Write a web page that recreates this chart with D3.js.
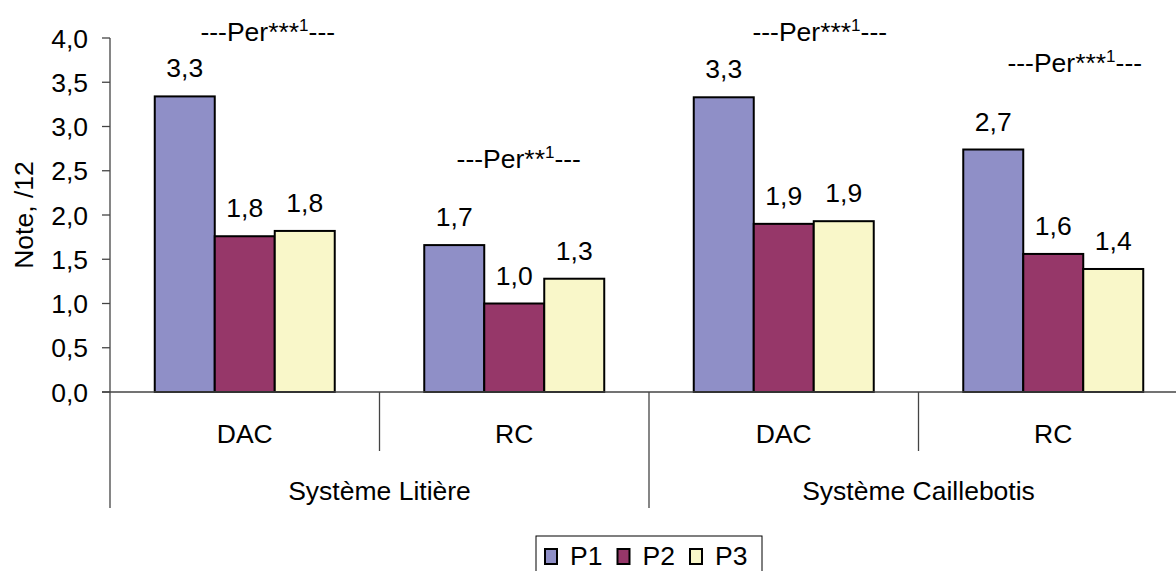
<!DOCTYPE html>
<html>
<head>
<meta charset="utf-8">
<script src="https://cdn.jsdelivr.net/npm/d3@7"></script>
<style>
  html, body { margin: 0; padding: 0; background: #fff; }
  svg { display: block; }
  text { font-family: "Liberation Sans", Arial, sans-serif; fill: #000; }
</style>
</head>
<body>
<svg id="chart" width="1176" height="571"></svg>
<script>
// ---- data ----
const systems = ["Système Litière", "Système Caillebotis"];
const categories = ["DAC", "RC", "DAC", "RC"];
const categorySystem = [0, 0, 1, 1];
const seriesNames = ["P1", "P2", "P3"];
const P1 = [3.34, 1.66, 3.33, 2.74];
const P2 = [1.76, 1.00, 1.90, 1.56];
const P3 = [1.82, 1.28, 1.93, 1.39];
const yTicks = [0, 0.5, 1, 1.5, 2, 2.5, 3, 3.5, 4];
const yTitle = "Note, /12";
const annotStars = ["***", "**", "***", "***"];
const annotLevel = [3.97, 2.53, 3.97, 3.62];   // baseline level in data units
const seriesColors = ["#8f8fc7", "#963769", "#f9f7c9"];

// ---- layout ----
const W = 1176, H = 571;
const plotLeft = 110, plotRight = 1188, plotTop = 38, plotBottom = 392;
const FS = 26.5, SX = 1.0;
const annotDx = [23, 4.5, 36, 21.5];

const svg = d3.select("#chart");
const loc = d3.formatLocale({decimal: ",", thousands: " ", grouping: [3], currency: ["", "€"]});
const fmt = loc.format(".1f");

const y = d3.scaleLinear().domain([0, 4]).range([plotBottom, plotTop]);
const x0 = d3.scaleBand().domain(d3.range(categories.length)).range([plotLeft, plotRight]).padding(0);
const x1 = d3.scaleBand().domain(seriesNames).range([0, x0.bandwidth()]).paddingInner(0).paddingOuter(0.746);

const series = [P1, P2, P3];

function txt(g, x, yy, s, opts = {}) {
  const t = g.append("text")
    .attr("transform", `translate(${x},${yy})${opts.rotate ? " rotate(" + opts.rotate + ")" : ""} scale(${opts.sx || SX},1)`)
    .attr("text-anchor", opts.anchor || "middle")
    .attr("font-size", opts.fs || FS)
    .text(s);
  return t;
}

// bars
const gBars = svg.append("g");
categories.forEach((c, i) => {
  series.forEach((vals, si) => {
    const bx = x0(i) + x1(seriesNames[si]);
    gBars.append("rect")
      .attr("x", bx)
      .attr("y", y(vals[i]))
      .attr("width", x1.bandwidth())
      .attr("height", y(0) - y(vals[i]))
      .attr("fill", seriesColors[si])
      .attr("stroke", "#000")
      .attr("stroke-width", 2);
  });
});

// axes lines
const axisColor = "#444";
const gAxis = svg.append("g");
gAxis.append("line").attr("x1", plotLeft).attr("x2", plotLeft).attr("y1", plotTop).attr("y2", 508)
  .attr("stroke", axisColor).attr("stroke-width", 1.3);
gAxis.append("line").attr("x1", plotLeft - 8).attr("x2", plotRight).attr("y1", y(0)).attr("y2", y(0))
  .attr("stroke", axisColor).attr("stroke-width", 1.3);
yTicks.forEach(t => {
  gAxis.append("line").attr("x1", plotLeft - 8).attr("x2", plotLeft).attr("y1", y(t)).attr("y2", y(t))
    .attr("stroke", axisColor).attr("stroke-width", 1.3);
  txt(gAxis, 88, y(t) + 9.5, fmt(t), {anchor: "end"});
});
for (let i = 1; i <= categories.length; i++) {
  const xx = i < categories.length ? x0(i) : plotRight;
  const major = i === categories.length || categorySystem[i] !== categorySystem[i - 1];
  gAxis.append("line").attr("x1", xx).attr("x2", xx).attr("y1", y(0)).attr("y2", major ? 508 : 451)
    .attr("stroke", axisColor).attr("stroke-width", 1.3);
}
categories.forEach((c, i) => {
  txt(gAxis, x0(i) + x0.bandwidth() / 2, 443, c);
});
systems.forEach((s, k) => {
  const idx = categorySystem.map((v, i) => v === k ? i : -1).filter(v => v >= 0);
  const xs = x0(idx[0]), xe = x0(idx[idx.length - 1]) + x0.bandwidth();
  txt(gAxis, (xs + xe) / 2, 500, s);
});
txt(svg, 33, (plotTop + plotBottom) / 2, yTitle, {rotate: -90});

// value labels
const gVals = svg.append("g");
categories.forEach((c, i) => {
  series.forEach((vals, si) => {
    const cx = x0(i) + x1(seriesNames[si]) + x1.bandwidth() / 2;
    txt(gVals, cx, y(vals[i]) - 19, fmt(vals[i]));
  });
});

// annotations
const gAnn = svg.append("g");
categories.forEach((c, i) => {
  const cx = x0(i) + x0.bandwidth() / 2 + annotDx[i];
  const t = txt(gAnn, cx, y(annotLevel[i]), "");
  t.append("tspan").text("---Per" + annotStars[i]);
  t.append("tspan").attr("font-size", 17).attr("dy", -10).text("1");
  t.append("tspan").attr("dy", 10).text("---");
});

// legend
const gLeg = svg.append("g");
const legCx = (plotLeft + plotRight) / 2;
const legW = 226, legTop = 536, legH = 40;
gLeg.append("rect").attr("x", legCx - legW / 2).attr("y", legTop).attr("width", legW).attr("height", legH)
  .attr("fill", "#fff").attr("stroke", "#000").attr("stroke-width", 1);
const itemStep = 72.5;
seriesNames.forEach((s, si) => {
  const ix = legCx - legW / 2 + 9 + si * itemStep;
  gLeg.append("rect").attr("x", ix).attr("y", 549).attr("width", 12).attr("height", 15)
    .attr("fill", seriesColors[si]).attr("stroke", "#000").attr("stroke-width", 2);
  txt(gLeg, ix + 25, 565, s, {anchor: "start"});
});
</script>
</body>
</html>
